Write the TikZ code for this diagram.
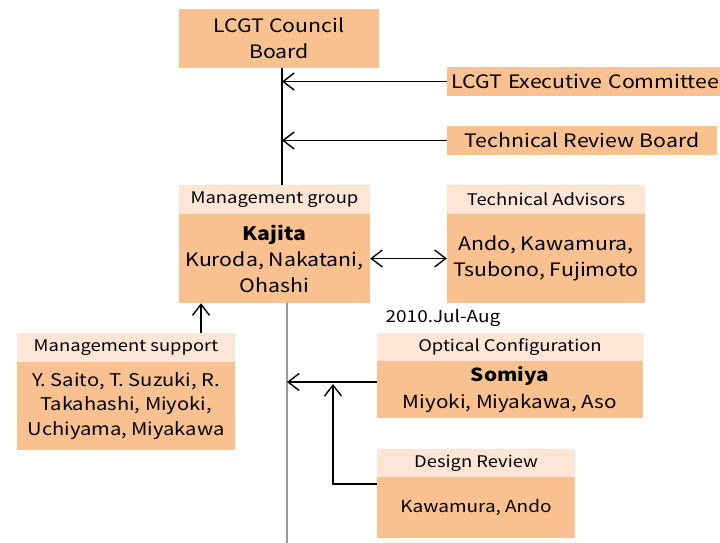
\documentclass[tikz,border=0pt]{standalone}
\usepackage{fontspec}
\setmainfont{Noto Sans CJK JP}[FakeStretch=1.15]
\usetikzlibrary{arrows.meta}
\definecolor{bodyc}{RGB}{249,192,144}
\definecolor{hdrc}{RGB}{253,230,214}
\tikzset{
  box/.style={fill=bodyc, draw=none, inner sep=2pt, align=center, font=\fontsize{18.5}{26}\selectfont},
  hdr/.style={fill=hdrc, draw=none, inner sep=2pt, align=center, minimum height=29pt, font=\fontsize{16}{18}\selectfont},
  conn/.style={draw=black, line width=1.4pt},
  arr/.style={conn, -{Straight Barb[length=11pt,width=17pt,line width=1.4pt]}},
  arrb/.style={conn, {Straight Barb[length=11pt,width=17pt,line width=1.4pt]}-{Straight Barb[length=11pt,width=17pt,line width=1.4pt]}},
}
\begin{document}
\begin{tikzpicture}[x=1pt,y=-1pt]
\useasboundingbox (0,0) rectangle (720,542);
% boxes
\node[box, minimum width=200pt, minimum height=59pt] (council) at (279,38.5) {LCGT Council\\Board};
\node[box, anchor=west, text width=290pt, align=left, minimum height=29pt, inner sep=4pt] (exec) at (447,81.5) {LCGT Executive Committee};
\node[box, minimum width=270pt, minimum height=29pt] (trb) at (582,140.5) {Technical Review Board};

\node[hdr, minimum width=191pt] (mghdr) at (274.5,199.5) {Management group};
\node[box, minimum width=191pt, minimum height=89pt] (mgbody) at (274.5,258.5) {\textbf{Kajita}\\Kuroda, Nakatani,\\Ohashi};

\node[hdr, minimum width=198pt] (tahdr) at (546,199.5) {Technical Advisors};
\node[box, minimum width=198pt, minimum height=89pt] (tabody) at (546,258.5) {Ando, Kawamura,\\Tsubono, Fujimoto};

\node[hdr, minimum width=218pt] (mshdr) at (126,347.5) {Management support};
\node[box, minimum width=218pt, minimum height=88pt, font=\fontsize{17.5}{24.5}\selectfont] (msbody) at (126,406) {Y. Saito, T. Suzuki, R.\\Takahashi, Miyoki,\\Uchiyama, Miyakawa};

\node[hdr, minimum width=266pt, minimum height=28pt] (ochdr) at (510,347) {Optical Configuration};
\node[box, minimum width=266pt, minimum height=57pt, font=\fontsize{18}{27}\selectfont] (ocbody) at (510,389.5) {\textbf{Somiya}\\Miyoki, Miyakawa, Aso};

\node[hdr, minimum width=198pt, minimum height=28pt] (drhdr) at (476,463) {Design Review};
\node[box, minimum width=198pt, minimum height=61pt, font=\fontsize{16.5}{26}\selectfont] (drbody) at (476,507.5) {Kawamura, Ando};

\node[font=\fontsize{16.5}{18}\selectfont, inner sep=0pt] (date) at (443,318) {2010.Jul-Aug};

% coordinates for trunks
\coordinate (trunk) at (282,0);
\coordinate (trunkb) at (287,0);
\coordinate (bottom) at (287,545);
\coordinate (msx) at (201,0);
\coordinate (join) at (333,384);

% connectors
\draw[conn] (council.south -| trunk) -- (mghdr.north -| trunk);
\draw[arr] (exec.west) -- (exec.west -| trunk);
\draw[arr] (trb.west) -- (trb.west -| trunk);
\draw[draw=gray!80, line width=1.5pt] (mgbody.south -| trunkb) -- (bottom);
\draw[arrb] (mgbody.east) -- (tabody.west);
\draw[arr] (mshdr.north -| msx) -- (mgbody.south -| msx);
\draw[arr] ([yshift=7.5pt]ocbody.west) -- ([yshift=7.5pt]ocbody.west -| trunkb);
\draw[arr] ([yshift=-7pt]drbody.north west) -| (join);
\end{tikzpicture}
\end{document}
